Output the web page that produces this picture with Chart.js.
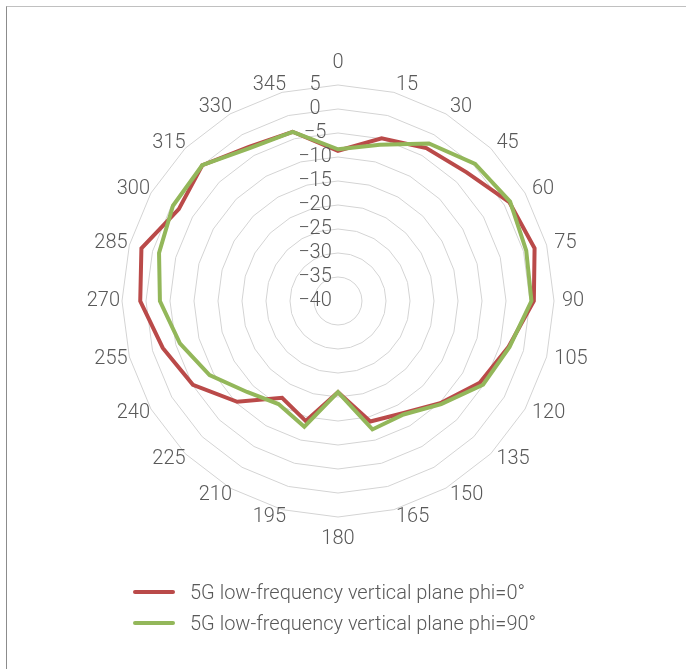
<!DOCTYPE html>
<html>
<head>
<meta charset="utf-8">
<script src="https://cdn.jsdelivr.net/npm/chart.js@4.4.1/dist/chart.umd.min.js"></script>
<style>
html,body{margin:0;padding:0;background:#fff;}
#wrap{position:relative;width:686px;height:669px;overflow:hidden;}
#frame{position:absolute;left:6px;top:6px;right:0;bottom:0;border-top:1px solid #c0c0c0;border-left:1px solid #8c8c8c;}
#c{position:absolute;left:0;top:0;}
#legend{position:absolute;left:133px;top:576px;font:300 20px Roboto,"Liberation Sans",sans-serif;color:#595959;}
.item{display:flex;align-items:center;height:31px;white-space:nowrap;}
.swatch{width:42px;height:4px;margin-right:15px;border-radius:2px;}
</style>
</head>
<body>
<div id="wrap">
  <div id="frame"></div>
  <canvas id="c" width="686" height="669"></canvas>
  <div id="legend"></div>
</div>
<script>
// Angle categories (degrees)
const angles = ['0','15','30','45','60','75','90','105','120','135','150','165','180','195','210','225','240','255','270','285','300','315','330','345'];
// Gain values (dB)
const phi0Values  = [-8.7,-4.9,-3.2,-2.1,1.2,2.4,0.8,-3.2,-5.9,-9.9,-13.0,-14.0,-21.0,-14.1,-16.7,-10.3,-5.1,-2.2,1.2,2.4,-1.7,0.0,-2.9,-3.5];
const phi90Values = [-8.4,-6.3,-2.1,0.4,1.4,0.6,0.3,-3.0,-5.1,-9.6,-12.7,-12.3,-21.0,-12.9,-15.2,-13.2,-9.1,-5.9,-2.9,-1.4,-0.3,0.0,-3.2,-3.5];
// Series names
const seriesNames = ['5G low-frequency vertical plane phi=0°','5G low-frequency vertical plane phi=90°'];
const seriesColors = ['#BA4A49','#93B75A'];
// Radial axis range
const axisMin = -40, axisMax = 5, axisStep = 5;

const FONT = '300 20px Roboto, "Liberation Sans", sans-serif';
const TEXT_COLOR = '#595959';

function fmt(v){ return v < 0 ? '\u2212' + Math.abs(v) : String(v); }

const excelLabels = {
  id: 'excelLabels',
  afterDatasetsDraw(chart){
    const s = chart.scales.r;
    const ctx = chart.ctx;
    ctx.save();
    ctx.font = FONT;
    ctx.fillStyle = TEXT_COLOR;
    ctx.textBaseline = 'middle';
    ctx.textAlign = 'center';
    s.ticks.forEach(t => {
      const d = s.getDistanceFromCenterForValue(t.value);
      ctx.fillText(fmt(t.value), s.xCenter - 23, s.yCenter - d);
    });
    const n = chart.data.labels.length;
    chart.data.labels.forEach((lab, i) => {
      const deg = Math.round(i * 360 / n);
      if (deg === 0 || deg === 180) {
        const p = s.getPointPosition(i, s.drawingArea + 22);
        ctx.textAlign = 'center';
        ctx.fillText(lab, p.x, p.y);
      } else {
        const p = s.getPointPosition(i, s.drawingArea + 8);
        if (deg < 180) { ctx.textAlign = 'left'; ctx.fillText(lab, p.x, p.y); }
        else { ctx.textAlign = 'right'; ctx.fillText(lab, p.x + 6, p.y); }
      }
    });
    ctx.restore();
  }
};

new Chart(document.getElementById('c'), {
  type: 'radar',
  data: {
    labels: angles,
    datasets: [
      { label: seriesNames[0], data: phi0Values, borderColor: seriesColors[0], order: 2 },
      { label: seriesNames[1], data: phi90Values, borderColor: seriesColors[1], order: 1 }
    ]
  },
  options: {
    responsive: false,
    animation: false,
    devicePixelRatio: 1,
    layout: { padding: { left: 122, right: 132, top: 85, bottom: 152 } },
    elements: {
      line: { borderWidth: 4, tension: 0, fill: false, backgroundColor: 'rgba(0,0,0,0)' },
      point: { radius: 0, hoverRadius: 0 }
    },
    scales: {
      r: {
        min: axisMin, max: axisMax, beginAtZero: false,
        ticks: { stepSize: axisStep, display: false },
        grid: { color: '#d4d4d4', lineWidth: 1 },
        angleLines: { display: false },
        pointLabels: { display: false }
      }
    },
    plugins: { legend: { display: false }, tooltip: { enabled: false } }
  },
  plugins: [excelLabels]
});

const leg = document.getElementById('legend');
seriesNames.forEach((n, i) => {
  const row = document.createElement('div');
  row.className = 'item';
  const sw = document.createElement('span');
  sw.className = 'swatch';
  sw.style.background = seriesColors[i];
  const tx = document.createElement('span');
  tx.textContent = n;
  row.appendChild(sw); row.appendChild(tx);
  leg.appendChild(row);
});
</script>
</body>
</html>
